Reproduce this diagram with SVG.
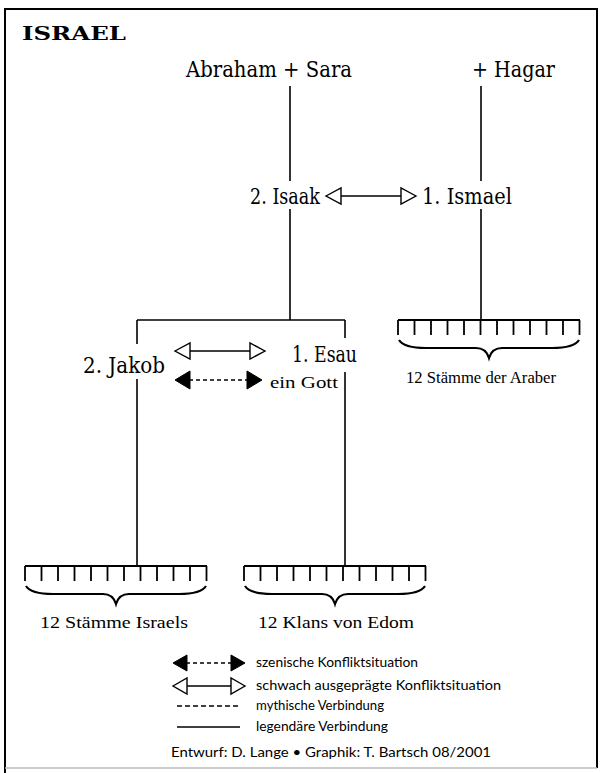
<svg xmlns="http://www.w3.org/2000/svg" width="601" height="773" viewBox="0 0 601 773">
<defs>
<style>
.ln{stroke:#000;stroke-width:1.6;fill:none}
.br{stroke:#000;stroke-width:1.8;fill:none}
.brace{stroke:#000;stroke-width:2.2;fill:none}
.lbl{font-family:"DejaVu Serif","Liberation Serif",serif;font-size:21.5px;fill:#000}
.sub{font-family:"Liberation Serif","DejaVu Serif",serif;font-size:17.5px;fill:#000}
.leg{font-family:Lato,"Open Sans",sans-serif;font-size:13px;fill:#000}
.ttl{font-family:"DejaVu Serif","Liberation Serif",serif;font-size:19px;font-weight:bold;fill:#000}
.open{fill:#fff;stroke:#000;stroke-width:1.4}
.fill{fill:#000;stroke:#000;stroke-width:1}
</style>
<g id="oarrow">
<line x1="0" y1="0" x2="90" y2="0" class="ln"/>
<polygon points="0,0 15,-8 15,8" class="open"/>
<polygon points="90,0 75,-8 75,8" class="open"/>
</g>
<g id="farrow">
<line x1="14" y1="0" x2="72" y2="0" stroke="#000" stroke-width="1.6" stroke-dasharray="4,3"/>
<polygon points="0,0 15,-9 15,9" class="fill"/>
<polygon points="87,0 72,-9 72,9" class="fill"/>
</g>
<g id="oarrowS">
<line x1="0" y1="0" x2="72" y2="0" class="ln"/>
<polygon points="0,0 14,-8 14,8" class="open"/>
<polygon points="72,0 58,-8 58,8" class="open"/>
</g>
<g id="farrowS">
<line x1="13" y1="0" x2="59" y2="0" stroke="#000" stroke-width="1.4" stroke-dasharray="4,3"/>
<polygon points="0,0 14,-8 14,8" class="fill"/>
<polygon points="72,0 58,-8 58,8" class="fill"/>
</g>
<g id="bracket">
<path d="M0,0 H182 M0,0 V15 M16.5,0 V15 M33,0 V15 M49.5,0 V15 M66,0 V15 M82.5,0 V15 M99,0 V15 M115.5,0 V15 M132,0 V15 M148.5,0 V15 M165,0 V15 M181.5,0 V15" class="br"/>
<path d="M1,20 Q6,28 28,28 L78,28 Q88,28 91,38 Q94,28 104,28 L154,28 Q176,28 181,20" class="brace"/>
</g>
</defs>

<g id="frame">
<path d="M5,773 V9 H597 V768" stroke="#000" stroke-width="2" fill="none"/>
<line x1="5" y1="768" x2="597" y2="768" stroke="#bbb" stroke-width="1.5"/>
</g>

<g id="title"><text x="22" y="40" class="ttl" textLength="104" lengthAdjust="spacingAndGlyphs">ISRAEL</text></g>

<g id="connectors">
<line x1="290" y1="86" x2="290" y2="181" class="ln"/>
<line x1="290" y1="209" x2="290" y2="320" class="ln"/>
<line x1="481" y1="86" x2="481" y2="181" class="ln"/>
<line x1="481" y1="209" x2="481" y2="320" class="ln"/>
<line x1="137" y1="320" x2="345" y2="320" class="ln"/>
<line x1="137" y1="320" x2="137" y2="344" class="ln"/>
<line x1="137" y1="379" x2="137" y2="566" class="ln"/>
<line x1="345" y1="320" x2="345" y2="338" class="ln"/>
<line x1="345" y1="372" x2="345" y2="566" class="ln"/>
<use href="#oarrow" x="326" y="196"/>
<use href="#oarrow" x="175" y="351"/>
<use href="#farrow" x="175" y="380"/>
</g>

<g id="abraham"><text x="186" y="77" class="lbl" textLength="166" lengthAdjust="spacingAndGlyphs">Abraham + Sara</text></g>
<g id="hagar"><text x="472" y="77" class="lbl" textLength="83" lengthAdjust="spacingAndGlyphs">+ Hagar</text></g>
<g id="isaak"><text x="250" y="204" class="lbl" textLength="70" lengthAdjust="spacingAndGlyphs">2. Isaak</text></g>
<g id="ismael"><text x="422" y="204" class="lbl" textLength="90" lengthAdjust="spacingAndGlyphs">1. Ismael</text></g>
<g id="jakob"><text x="83" y="373" class="lbl" textLength="82" lengthAdjust="spacingAndGlyphs">2. Jakob</text></g>
<g id="esau"><text x="292" y="362" class="lbl" textLength="65" lengthAdjust="spacingAndGlyphs">1. Esau</text></g>
<g id="eingott"><text x="270" y="388" class="sub" textLength="68" lengthAdjust="spacingAndGlyphs">ein Gott</text></g>

<g id="araber">
<use href="#bracket" x="398" y="320"/>
<text x="406" y="383" class="sub" textLength="150" lengthAdjust="spacingAndGlyphs">12 Stämme der Araber</text>
</g>
<g id="israels">
<use href="#bracket" x="25" y="566"/>
<text x="40" y="628" class="sub" textLength="148" lengthAdjust="spacingAndGlyphs">12 Stämme Israels</text>
</g>
<g id="edom">
<use href="#bracket" x="244" y="566"/>
<text x="258" y="628" class="sub" textLength="156" lengthAdjust="spacingAndGlyphs">12 Klans von Edom</text>
</g>

<g id="legend">
<use href="#farrowS" x="173" y="663"/>
<text x="256" y="667" class="leg" textLength="162" lengthAdjust="spacingAndGlyphs">szenische Konfliktsituation</text>
<use href="#oarrowS" x="173" y="686"/>
<text x="256" y="690" class="leg" textLength="245" lengthAdjust="spacingAndGlyphs">schwach ausgeprägte Konfliktsituation</text>
<line x1="177" y1="706" x2="240" y2="706" stroke="#000" stroke-width="1.5" stroke-dasharray="5,3"/>
<text x="256" y="710" class="leg" textLength="128" lengthAdjust="spacingAndGlyphs">mythische Verbindung</text>
<line x1="177" y1="727" x2="240" y2="727" stroke="#000" stroke-width="1.5"/>
<text x="256" y="731" class="leg" textLength="132" lengthAdjust="spacingAndGlyphs">legendäre Verbindung</text>
</g>

<g id="credit"><text x="171" y="757" class="leg" textLength="320" lengthAdjust="spacingAndGlyphs">Entwurf: D. Lange • Graphik: T. Bartsch 08/2001</text></g>
</svg>
